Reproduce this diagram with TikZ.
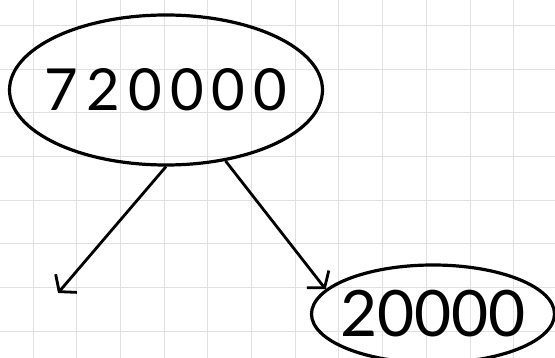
\documentclass[tikz,border=0pt]{standalone}
\usepackage{fontspec}
\setmainfont{Lato}
\usepackage{tikz}
\usetikzlibrary{arrows.meta,positioning,shapes.geometric}
\tikzset{
  gridline/.style={draw=black!12, line width=1pt},
  numbox/.style={
    draw,
    ellipse,
    line width=3.2pt,
    inner xsep=-30pt,
    inner ysep=-15pt,
    align=center
  },
  bignum/.style={numbox, minimum width=313pt, minimum height=150pt,
    font=\fontsize{58}{60}\selectfont\addfontfeature{LetterSpace=14}},
  smallnum/.style={numbox, minimum width=243pt, minimum height=98pt,
    font=\fontsize{64}{66}\selectfont},
  flow/.style={-{Straight Barb[length=11pt,width=28pt]}, line width=2.8pt}
}
\begin{document}
\begin{tikzpicture}[x=1pt, y=-1pt]
\useasboundingbox (0,0) rectangle (555,358);
\clip (0,0) rectangle (555,358);
\fill[white] (0,0) rectangle (555,358);
% squared paper
\foreach \k in {0,...,12}
  \draw[gridline] ({33+43.7*\k},0) -- ({33+43.7*\k},358);
\foreach \k in {0,...,7}
  \draw[gridline] (0,{25.5+43.7*\k}) -- (555,{25.5+43.7*\k});

\node[bignum] (parent) at (166,90) {720000};
\node[smallnum] (right) at (433,314) {20000};
\coordinate (leftend) at (58,293);

\draw[flow] (parent.south) -- (leftend);
\draw[flow] (parent.-50) -- (right.167);
\end{tikzpicture}
\end{document}
